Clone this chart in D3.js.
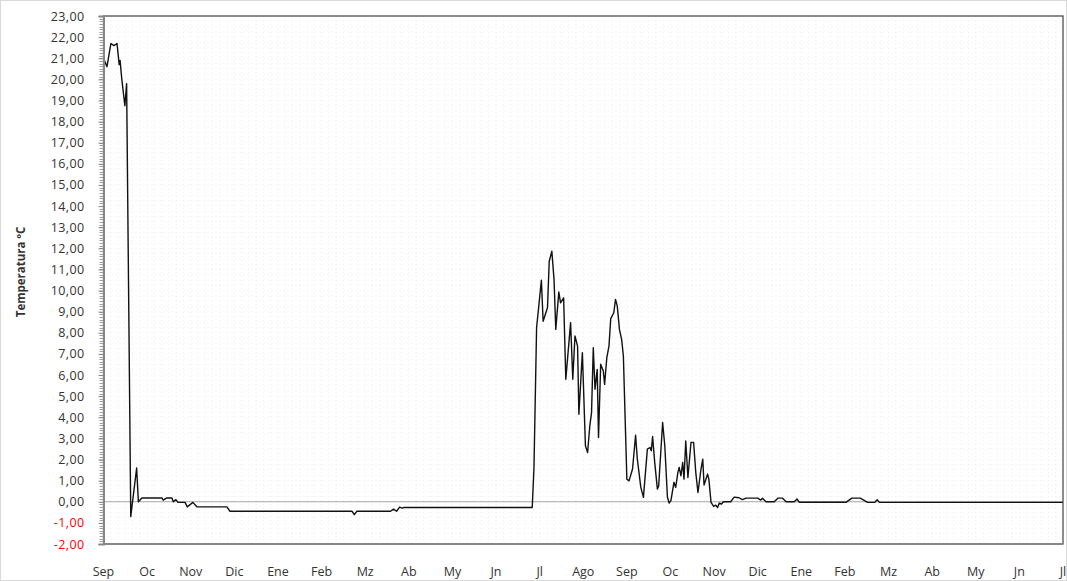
<!DOCTYPE html>
<html>
<head>
<meta charset="utf-8">
<script src="https://cdn.jsdelivr.net/npm/d3@7"></script>
<style>
  body { margin: 0; background: #fff; }
  svg text { font-family: "Open Sans", sans-serif; }
</style>
</head>
<body>
<div id="chart"></div>
<script>
// Month labels along the bottom (one per month boundary)
const monthLabels = ["Sep", "Oc", "Nov", "Dic", "Ene", "Feb", "Mz", "Ab", "My", "Jn", "Jl",
  "Ago", "Sep", "Oc", "Nov", "Dic", "Ene", "Feb", "Mz", "Ab", "My", "Jn", "Jl"];

const yTicks = [-2, -1, 0, 1, 2, 3, 4, 5, 6, 7, 8, 9, 10, 11, 12, 13, 14, 15, 16, 17, 18, 19, 20, 21, 22, 23];

// Position in months since start of first Sep, and temperature (ºC)
const monthPos = [
  0.00, 0.08, 0.17, 0.24, 0.31, 0.36, 0.38, 0.42, 0.49, 0.53, 0.625,
  0.76, 0.80, 0.88, 1.34, 1.37, 1.45, 1.57, 1.60, 1.66, 1.71, 1.87, 1.92, 2.05, 2.14,
  2.83, 2.90, 5.70, 5.75, 5.81, 6.58, 6.65, 6.72, 6.79, 6.85, 6.89, 9.83,
  9.87, 9.93, 10.04, 10.08, 10.18, 10.22, 10.28, 10.33, 10.37, 10.44, 10.48, 10.55,
  10.60, 10.71, 10.76, 10.81, 10.87, 10.90, 10.98, 11.05, 11.10, 11.15, 11.19, 11.23,
  11.27, 11.32, 11.35, 11.40, 11.46, 11.49, 11.54, 11.59, 11.63, 11.70, 11.74, 11.78,
  11.83, 11.88, 11.92, 12.00, 12.05, 12.13, 12.20, 12.24, 12.32, 12.38, 12.47, 12.53,
  12.56, 12.59, 12.64, 12.70, 12.73, 12.82, 12.87, 12.93, 12.97, 13.01, 13.08, 13.12,
  13.17, 13.20, 13.24, 13.28, 13.31, 13.35, 13.40, 13.47, 13.53, 13.58, 13.63, 13.70,
  13.74, 13.77, 13.85, 13.88, 13.93, 13.99, 14.04, 14.08, 14.12, 14.17, 14.21, 14.38,
  14.46, 14.57, 14.65, 14.73, 15.00, 15.07, 15.11, 15.19, 15.38, 15.46, 15.57, 15.65,
  15.84, 15.90, 15.95, 17.03, 17.16, 17.35, 17.45, 17.52, 17.68, 17.74, 17.79, 22.00
];
const temps = [
  21.0, 20.6, 21.7, 21.6, 21.7, 20.7, 20.9, 20.0, 18.75, 19.8, -0.7,
  1.6, 0.0, 0.18, 0.18, 0.08, 0.18, 0.18, 0.0, 0.1, -0.03, -0.03, -0.24, -0.03, -0.24,
  -0.24, -0.45, -0.45, -0.61, -0.45, -0.45, -0.35, -0.45, -0.25, -0.3, -0.27, -0.27,
  1.6, 8.24, 10.49, 8.55, 9.19, 11.39, 11.86, 10.52, 8.16, 9.93, 9.42, 9.66,
  5.8, 8.48, 5.8, 7.85, 7.37, 4.14, 7.06, 2.65, 2.33, 3.59, 4.22, 7.3,
  5.33, 6.27, 3.04, 6.51, 6.19, 5.56, 6.82, 7.37, 8.67, 8.95, 9.58, 9.26,
  8.16, 7.69, 6.9, 1.07, 0.99, 1.55, 3.15, 2.02, 0.68, 0.21, 2.49, 2.57,
  2.41, 3.09, 1.83, 0.6, 0.76, 3.75, 2.65, 0.21, -0.06, 0.05, 0.92, 0.68,
  1.39, 1.63, 1.23, 1.86, 1.07, 2.88, 1.15, 2.81, 2.81, 1.39, 0.44, 1.55,
  2.02, 0.79, 1.31, 1.07, -0.03, -0.22, -0.16, -0.27, -0.06, -0.11, 0.0, 0.0,
  0.22, 0.19, 0.1, 0.17, 0.17, 0.08, 0.17, 0.0, 0.0, 0.17, 0.17, 0.0,
  0.0, 0.13, -0.02, -0.02, 0.17, 0.17, 0.05, -0.03, -0.03, 0.1, -0.03, -0.03
];

const W = 1067, H = 581;
const plot = { left: 103.5, top: 16, right: 1063, bottom: 544 };

const svg = d3.select("#chart").append("svg")
  .attr("width", W).attr("height", H);

// Chart area border
svg.append("rect")
  .attr("x", 0.5).attr("y", 0.5)
  .attr("width", W - 1).attr("height", H - 1)
  .attr("fill", "#fff").attr("stroke", "#d9d9d9");

const x = d3.scaleLinear().domain([0, 22]).range([plot.left, plot.right]);
const y = d3.scaleLinear().domain([-2, 23]).range([plot.bottom, plot.top]);

const fmt = d3.formatLocale({ decimal: ",", thousands: ".", grouping: [3], currency: ["", ""], minus: "-" }).format(".2f");

// Very faint dotted grid
const grid = svg.append("g").attr("stroke", "#eeeeee").attr("stroke-dasharray", "1,3");
grid.selectAll(".vg").data(d3.range(1 / 6, 22, 1 / 6)).join("line")
  .attr("x1", d => x(d)).attr("x2", d => x(d))
  .attr("y1", plot.top).attr("y2", plot.bottom);
grid.selectAll(".hg").data(d3.range(-1.75, 23, 0.25)).join("line")
  .attr("x1", plot.left).attr("x2", plot.right)
  .attr("y1", d => y(d)).attr("y2", d => y(d));

// Zero line
svg.append("line")
  .attr("x1", plot.left).attr("x2", plot.right)
  .attr("y1", y(0)).attr("y2", y(0))
  .attr("stroke", "#a6a6a6").attr("stroke-width", 1);

// Temperature line
const line = d3.line().x(d => x(d[0])).y(d => y(d[1]));
svg.append("path")
  .datum(monthPos.map((m, i) => [m, temps[i]]))
  .attr("fill", "none")
  .attr("stroke", "#111")
  .attr("stroke-width", 1.4)
  .attr("stroke-linejoin", "round")
  .attr("d", line);

// Plot frame (top/right dark)
svg.append("rect")
  .attr("x", plot.left).attr("y", plot.top)
  .attr("width", plot.right - plot.left).attr("height", plot.bottom - plot.top)
  .attr("fill", "none").attr("stroke", "#404040").attr("stroke-width", 1.2);

// Minor ticks on y axis
svg.append("g").selectAll("line").data(d3.range(-2, 23.001, 0.125)).join("line")
  .attr("x1", plot.left - 4).attr("x2", plot.left)
  .attr("y1", d => Math.round(y(d)) + 0.5).attr("y2", d => Math.round(y(d)) + 0.5)
  .attr("stroke", "#a0a0a0").attr("stroke-width", 1);

// Y axis
const yAxis = svg.append("g")
  .attr("transform", `translate(${plot.left},0)`)
  .call(d3.axisLeft(y).tickValues(yTicks).tickSize(5).tickPadding(14).tickFormat(fmt));
yAxis.select(".domain").attr("stroke", "#868686").attr("stroke-width", 2);
yAxis.selectAll(".tick line").attr("stroke", "#868686");
yAxis.selectAll(".tick text")
  .attr("fill", d => d < 0 ? "#ff0000" : "#333")
  .style("font-size", "12.5px")
  .style("letter-spacing", "0.4px");

// Bottom axis line
svg.append("line")
  .attr("x1", plot.left).attr("x2", plot.right)
  .attr("y1", plot.bottom).attr("y2", plot.bottom)
  .attr("stroke", "#868686").attr("stroke-width", 2);

// Month labels
svg.append("g").selectAll("text").data(monthLabels).join("text")
  .attr("x", (d, i) => x(i))
  .attr("y", 575.5)
  .attr("text-anchor", "middle")
  .attr("fill", "#333")
  .style("font-size", "12.5px")
  .text(d => d);

// Y axis title
svg.append("text")
  .attr("transform", `translate(25,272) rotate(-90)`)
  .attr("text-anchor", "middle")
  .attr("fill", "#333")
  .style("font-size", "11.5px")
  .style("font-weight", "bold")
  .text("Temperatura ºC");
</script>
</body>
</html>
